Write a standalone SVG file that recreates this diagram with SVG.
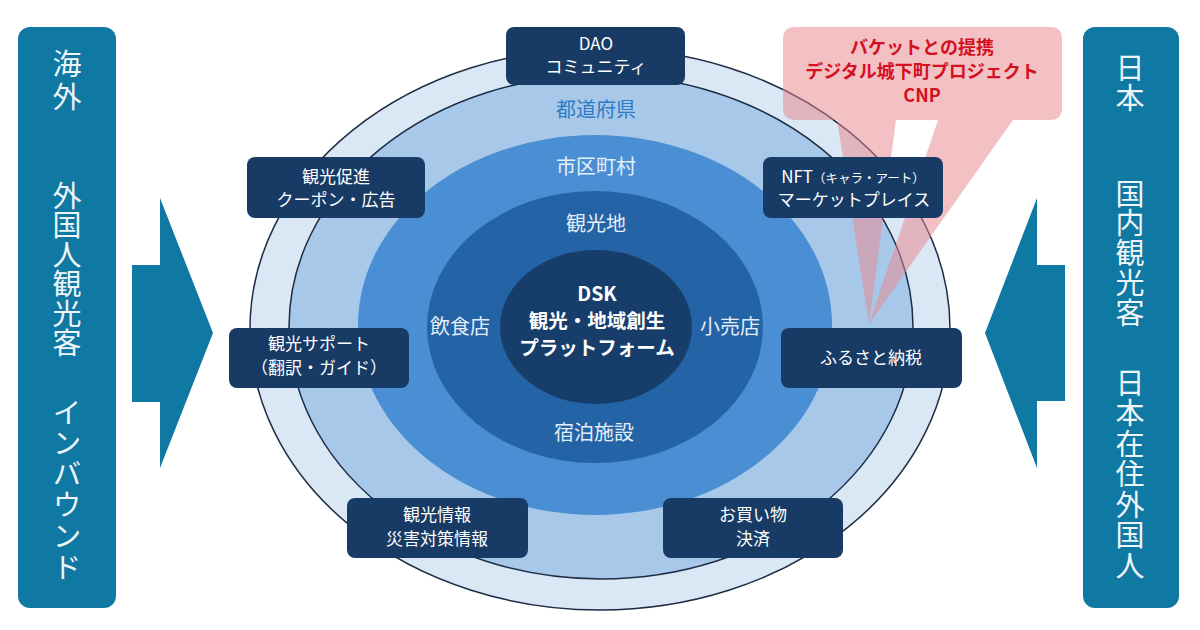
<svg xmlns="http://www.w3.org/2000/svg" width="1200" height="630" viewBox="0 0 1200 630">
<defs>
<style>
text{font-family:"Noto Sans CJK JP","Noto Sans",sans-serif;text-anchor:middle}
.panel{fill:#0f78a3}
.ptxt{fill:#eef5f9;font-size:29px;writing-mode:vertical-rl;text-anchor:start}
.node{fill:#173b65}
.ntxt{fill:#ffffff;font-size:17px}
.ring{stroke:#1e2c44;stroke-width:1.5}
.rlab{fill:#e4eefa;font-size:20px}
.ctxt{fill:#ffffff;font-size:19.5px;font-weight:bold}
.red{fill:#d3101f;font-size:18px;font-weight:bold}
.arrow{fill:#0f78a3}
</style>
</defs>
<rect width="1200" height="630" fill="#ffffff"/>

<!-- concentric ellipses -->
<g id="rings">
<ellipse class="ring" cx="600" cy="329" rx="350" ry="281" fill="#dae8f6"/>
<ellipse class="ring" cx="601" cy="327" rx="312" ry="252" fill="#a8c8e9"/>
<ellipse cx="595" cy="325" rx="237" ry="190" fill="#4a8fd3"/>
<ellipse cx="595" cy="327" rx="168" ry="136" fill="#2463a5"/>
<ellipse cx="596" cy="327" rx="96" ry="77" fill="#173e6b"/>
<text x="596" y="117" style="fill:#2d7cc5;font-size:20px">都道府県</text>
<text class="rlab" x="596" y="174">市区町村</text>
<text class="rlab" x="596" y="231">観光地</text>
<text class="rlab" x="460" y="334">飲食店</text>
<text class="rlab" x="730" y="334">小売店</text>
<text class="rlab" x="594" y="440">宿泊施設</text>
</g>

<g id="center">
<text class="ctxt" x="597" y="301">DSK</text>
<text class="ctxt" x="597" y="328">観光・地域創生</text>
<text class="ctxt" x="597" y="355">プラットフォーム</text>
</g>

<!-- callout -->
<g id="callout">
<path d="M795,27 H1050 Q1062,27 1062,39 V108 Q1062,120 1050,120 H795 Q783,120 783,108 V39 Q783,27 795,27 Z" fill="#e8868e" fill-opacity="0.52"/>
<path d="M837,120 L896,120 L869,324 Z M938,120 L1013,120 L869,324 Z" fill="#e8868e" fill-opacity="0.52"/>
<text class="red" x="922" y="54">バケットとの提携</text>
<text class="red" x="922" y="78">デジタル城下町プロジェクト</text>
<text class="red" x="922" y="102">CNP</text>
</g>

<!-- side panels -->
<g id="overseas">
<rect class="panel" x="18" y="27" width="98" height="581" rx="12"/>
<text class="ptxt" x="67" y="49" style="letter-spacing:4px">海外</text>
<text class="ptxt" x="67" y="181" style="letter-spacing:0.5px">外国人観光客</text>
<text class="ptxt" x="67" y="398" style="letter-spacing:1.8px">インバウンド</text>
</g>

<g id="domestic">
<rect class="panel" x="1083" y="27" width="96" height="581" rx="12"/>
<text class="ptxt" x="1130" y="53" style="letter-spacing:1px">日本</text>
<text class="ptxt" x="1130" y="179" style="letter-spacing:0.8px">国内観光客</text>
<text class="ptxt" x="1130" y="368" style="letter-spacing:1.5px">日本在住外国人</text>
</g>

<g id="connectors">
<polygon class="arrow" points="132,265 160,265 160,198 213,333 160,468 160,402 132,402"/>
<polygon class="arrow" points="1065,265 1037,265 1037,198 985,333 1037,468 1037,401 1065,401"/>
</g>

<!-- nodes -->
<g id="node-dao">
<rect class="node" x="506" y="27" width="179" height="58" rx="8"/>
<text class="ntxt" x="596" y="50">DAO</text>
<text class="ntxt" x="596" y="73">コミュニティ</text>
</g>
<g id="node-promo">
<rect class="node" x="247" y="157" width="178" height="61" rx="8"/>
<text class="ntxt" x="336" y="183">観光促進</text>
<text class="ntxt" x="336" y="206">クーポン・広告</text>
</g>
<g id="node-nft">
<rect class="node" x="763" y="157" width="180" height="61" rx="8"/>
<text class="ntxt" x="853" y="183">NFT<tspan style="font-size:12.5px">（キャラ・アート）</tspan></text>
<text class="ntxt" x="854" y="206">マーケットプレイス</text>
</g>
<g id="node-support">
<rect class="node" x="229" y="328" width="180" height="60" rx="8"/>
<text class="ntxt" x="319" y="350">観光サポート</text>
<text class="ntxt" x="319" y="374">（翻訳・ガイド）</text>
</g>
<g id="node-furusato">
<rect class="node" x="781" y="328" width="181" height="60" rx="8"/>
<text class="ntxt" x="871" y="364">ふるさと納税</text>
</g>
<g id="node-info">
<rect class="node" x="347" y="498" width="181" height="60" rx="8"/>
<text class="ntxt" x="437" y="521">観光情報</text>
<text class="ntxt" x="437" y="545">災害対策情報</text>
</g>
<g id="node-shopping">
<rect class="node" x="663" y="498" width="180" height="60" rx="8"/>
<text class="ntxt" x="753" y="521">お買い物</text>
<text class="ntxt" x="753" y="545">決済</text>
</g>
</svg>
